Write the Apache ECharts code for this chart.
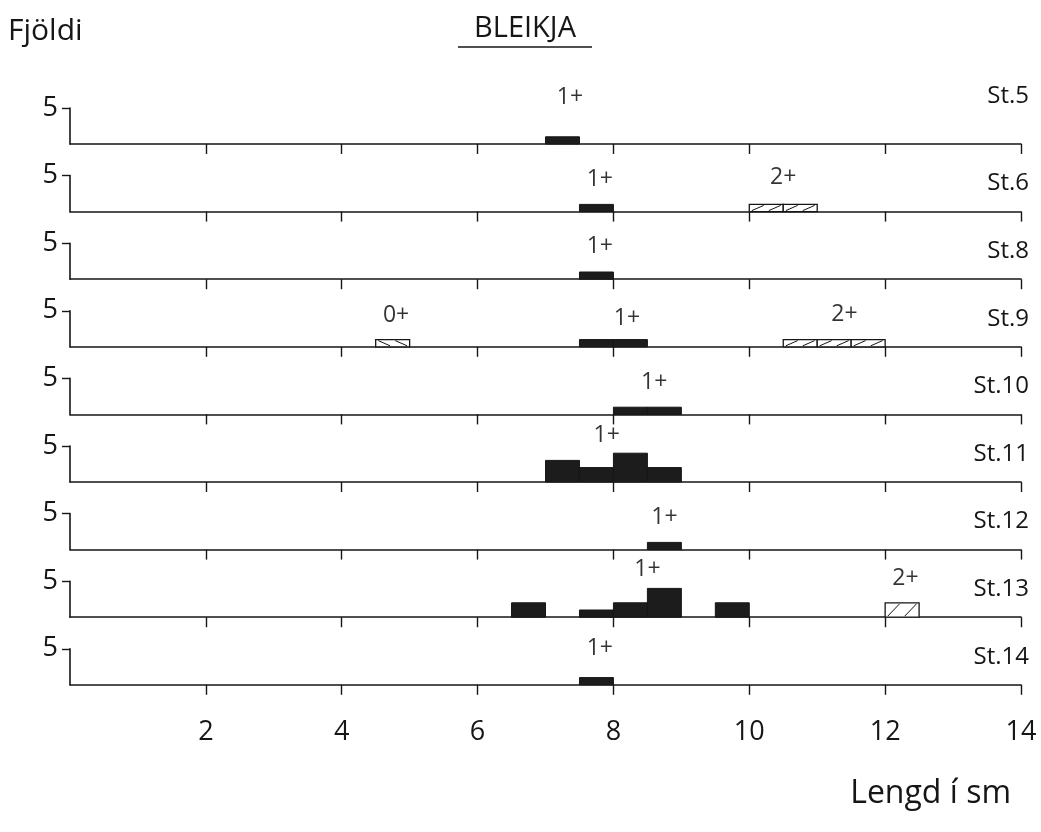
<!DOCTYPE html>
<html>
<head>
<meta charset="utf-8">
<script src="https://cdn.jsdelivr.net/npm/echarts@6/dist/echarts.min.js"></script>
<style>
  html, body { margin: 0; padding: 0; background: #fff; }
  #chart { width: 1041px; height: 832px; }
</style>
</head>
<body>
<div id="chart"></div>
<script>
// ---------- DATA ----------
const chartTitle = 'BLEIKJA';
const yName = 'Fjöldi';
const xName = 'Lengd í sm';
const stations = ['St.5', 'St.6', 'St.8', 'St.9', 'St.10', 'St.11', 'St.12', 'St.13', 'St.14'];
const binWidth = 0.5; // cm
// [bin start (cm), number of fish] for each station
const age0Bins = [[], [], [], [[4.5, 1]], [], [], [], [], []];
const age1Bins = [
  [[7.0, 1]],
  [[7.5, 1]],
  [[7.5, 1]],
  [[7.5, 1], [8.0, 1]],
  [[8.0, 1], [8.5, 1]],
  [[7.0, 3], [7.5, 2], [8.0, 4], [8.5, 2]],
  [[8.5, 1]],
  [[6.5, 2], [7.5, 1], [8.0, 2], [8.5, 4], [9.5, 2]],
  [[7.5, 1]]
];
const age2Bins = [[], [[10.0, 1], [10.5, 1]], [], [[10.5, 1], [11.0, 1], [11.5, 1]], [], [], [], [[12.0, 2]], []];
// age-group annotations: [length (cm), height (fish), text]
const ageLabels = [
  [[7.36, 6.4, '1+']],
  [[7.8, 4.4, '1+'], [10.5, 4.7, '2+']],
  [[7.8, 4.5, '1+']],
  [[4.8, 4.4, '0+'], [8.2, 4.0, '1+'], [11.4, 4.5, '2+']],
  [[8.6, 4.4, '1+']],
  [[7.9, 6.5, '1+']],
  [[8.75, 4.5, '1+']],
  [[8.5, 6.6, '1+'], [12.3, 5.4, '2+']],
  [[7.8, 5.1, '1+']]
];
const xTicks = [2, 4, 6, 8, 10, 12, 14];
const yTicks = [5];
const xMin = 0, xMax = 14, yMax = 5;

// ---------- LAYOUT ----------
const FONT = 'Open Sans';
const INK = '#161616';
const gridLeft = 70, gridRight = 20, firstTop = 108, step = 67.6, gridH = 36;

const grids = [], xAxes = [], yAxes = [], series = [], graphics = [];

function filledItem(params, api) {
  const x0 = api.value(0), n = api.value(1);
  const p0 = api.coord([x0, n]);
  const p1 = api.coord([x0 + binWidth, 0]);
  return {
    type: 'rect',
    shape: { x: p0[0], y: p0[1], width: p1[0] - p0[0], height: p1[1] - p0[1] },
    style: { fill: '#1c1c1c', stroke: INK, lineWidth: 1 }
  };
}
function hatchItem(dir) {
  return function (params, api) {
    const x0 = api.value(0), n = api.value(1);
    const p0 = api.coord([x0, n]);
    const p1 = api.coord([x0 + binWidth, 0]);
    const w = p1[0] - p0[0], h = p1[1] - p0[1];
    const children = [{
      type: 'rect',
      shape: { x: p0[0], y: p0[1], width: w, height: h },
      style: { fill: '#fff', stroke: INK, lineWidth: 1.3 }
    }];
    const k = 2;
    for (let j = 0; j < k; j++) {
      const a = p0[0] + w * (j + 0.15) / k, b = p0[0] + w * (j + 0.85) / k;
      children.push({
        type: 'line',
        shape: dir > 0
          ? { x1: a, y1: p1[1] - 1, x2: b, y2: p0[1] + 1 }
          : { x1: a, y1: p0[1] + 1, x2: b, y2: p1[1] - 1 },
        style: { stroke: INK, lineWidth: 1 }
      });
    }
    return { type: 'group', children: children };
  };
}

stations.forEach(function (name, i) {
  const top = firstTop + i * step;
  const last = i === stations.length - 1;
  grids.push({ left: gridLeft, right: gridRight, top: top, height: gridH });
  xAxes.push({
    gridIndex: i, type: 'value', min: xMin, max: xMax, interval: 2,
    axisLine: { show: true, onZero: false, lineStyle: { color: INK, width: 1.6 } },
    axisTick: { show: true, customValues: xTicks, length: 10, lineStyle: { color: INK, width: 1.4 } },
    axisLabel: { show: last, customValues: xTicks, fontSize: 27, margin: 34, color: INK, fontFamily: FONT },
    splitLine: { show: false }
  });
  yAxes.push({
    gridIndex: i, type: 'value', min: 0, max: yMax, interval: 5,
    axisLine: { show: true, lineStyle: { color: INK, width: 1.6 } },
    axisTick: { show: true, customValues: yTicks, length: 8, lineStyle: { color: INK, width: 1.4 } },
    axisLabel: { show: true, customValues: yTicks, fontSize: 27, margin: 12, color: INK, fontFamily: FONT, padding: [8, 0, 0, 0] },
    splitLine: { show: false }
  });
  series.push({
    type: 'custom', name: name + ' 1+', xAxisIndex: i, yAxisIndex: i,
    renderItem: filledItem, data: age1Bins[i], clip: false
  });
  series.push({
    type: 'custom', name: name + ' 0+', xAxisIndex: i, yAxisIndex: i,
    renderItem: hatchItem(-1), data: age0Bins[i], clip: false
  });
  series.push({
    type: 'custom', name: name + ' 2+', xAxisIndex: i, yAxisIndex: i,
    renderItem: hatchItem(1), data: age2Bins[i], clip: false
  });
  series.push({
    type: 'scatter', xAxisIndex: i, yAxisIndex: i, symbolSize: 0, clip: false,
    data: ageLabels[i],
    label: {
      show: true, position: 'inside', color: '#000', fontSize: 23, fontFamily: FONT,
      formatter: function (p) { return p.value[2]; }
    },
    silent: true
  });
  const base = top + gridH;
  graphics.push({
    type: 'text', right: 12, top: base - (i === 0 ? 60 : 40),
    style: { text: name, fontSize: 24, fontFamily: FONT, fill: INK }
  });
});

graphics.push({
  type: 'text', x: 525, y: 29,
  style: { text: chartTitle, fontSize: 29, fontFamily: FONT, fill: INK, align: 'center', verticalAlign: 'middle' }
});
graphics.push({
  type: 'line', shape: { x1: 458, y1: 47, x2: 592, y2: 47 },
  style: { stroke: INK, lineWidth: 1.6 }
});
graphics.push({
  type: 'text', left: 8, top: 16,
  style: { text: yName, fontSize: 30, fontFamily: FONT, fill: INK }
});
graphics.push({
  type: 'text', right: 30, top: 778,
  style: { text: xName, fontSize: 32, fontFamily: FONT, fill: INK }
});

const chart = echarts.init(document.getElementById('chart'), null, { renderer: 'canvas' });
chart.setOption({
  backgroundColor: '#fff',
  animation: false,
  grid: grids,
  xAxis: xAxes,
  yAxis: yAxes,
  series: series,
  graphic: graphics
});
</script>
</body>
</html>
